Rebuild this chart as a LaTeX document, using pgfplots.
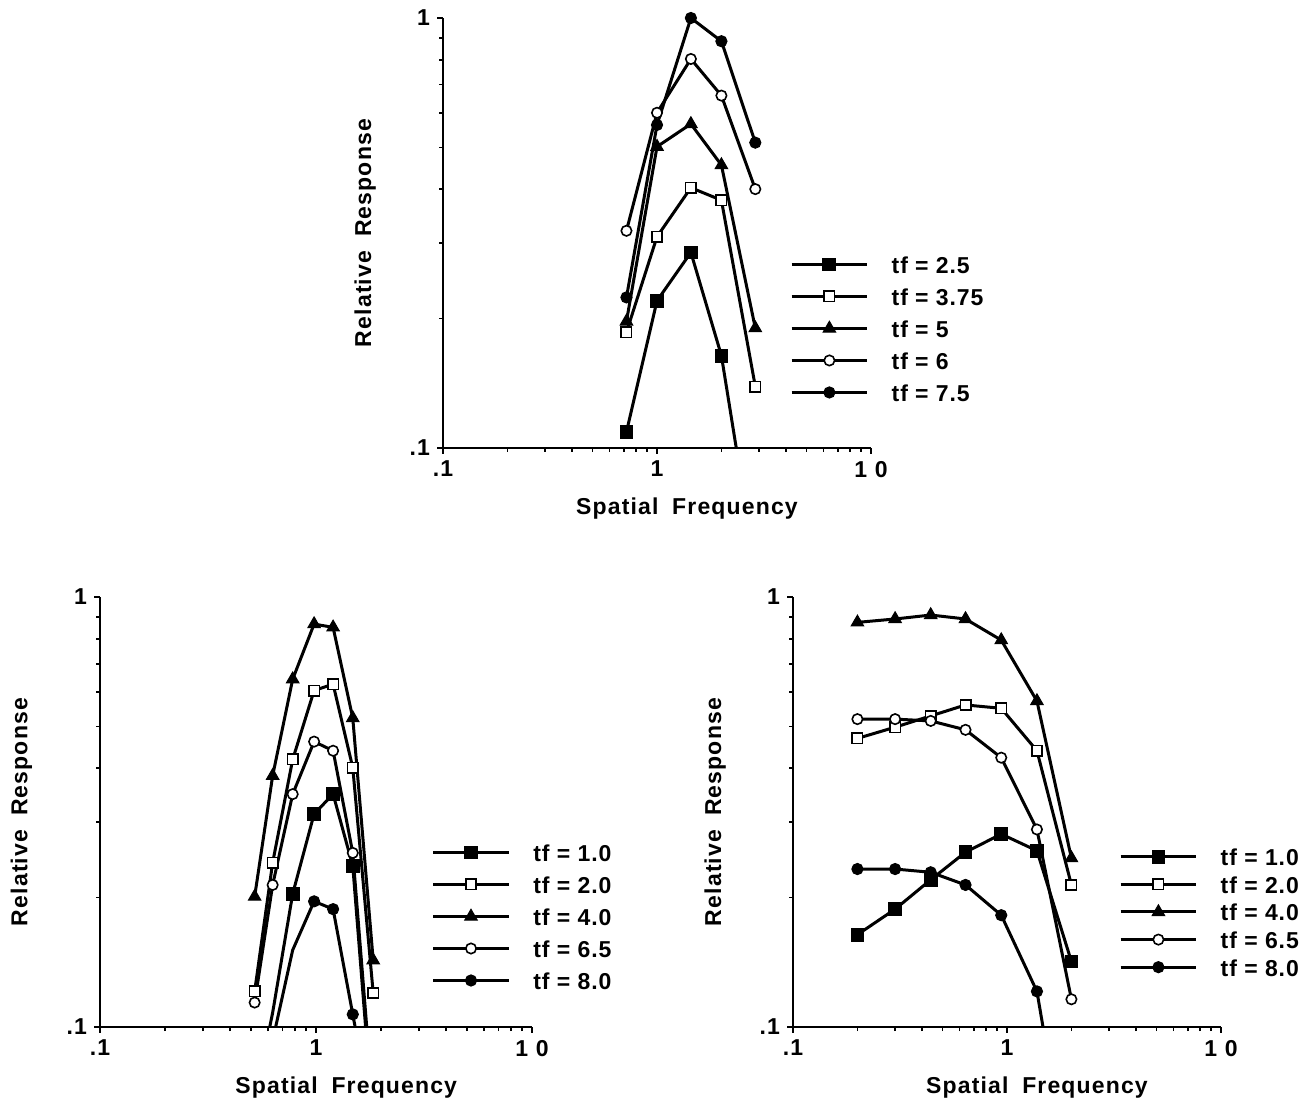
\documentclass[border=0pt]{standalone}
\usepackage{fontspec}
\setmainfont{Liberation Sans}[LetterSpace=5]
\newfontfamily\legfam{Liberation Sans}[LetterSpace=4]
\usepackage{pgfplots}
\pgfplotsset{compat=1.18}

\newcommand\lbl{\fontsize{11.5}{13.5}\selectfont\bfseries}
\newcommand\leg{\legfam\fontsize{11.5}{13.5}\selectfont\bfseries}

\tikzset{
  ser/.style={black, line width=1.5pt},
  fsq/.style={ser, mark=square*, mark size=3.2pt, mark options={solid, fill=black, line width=0.5pt}},
  osq/.style={ser, mark=square*, mark size=2.6pt, mark options={solid, fill=white, line width=0.8pt}},
  ftri/.style={ser, mark=triangle*, mark size=3.6pt, mark options={solid, fill=black, line width=0.5pt}},
  ocir/.style={ser, mark=*, mark size=2.6pt, mark options={solid, fill=white, line width=0.8pt}},
  fcir/.style={ser, mark=*, mark size=2.8pt, mark options={solid, fill=black, line width=0.5pt}},
}

\pgfplotsset{
  legend image code/.code={%
    \draw[#1, mark indices={2}] plot coordinates {(0pt,0pt) (18.9pt,0pt) (37.8pt,0pt)};},
  every axis/.append style={
    scale only axis, width=214pt, height=215pt,
    xmin=0.1, xmax=10, ymin=0.1, ymax=1,
    axis x line*=bottom, axis y line*=left,
    axis line style={line width=1pt},
    tick align=outside, major tick length=3pt, minor tick length=2pt,
    tick style={black, line width=0.9pt},
    xtick={0.1,1,10}, xticklabels={.1,1,1 0},
    ytick={0.1,1}, yticklabels={.1,1},
    tick label style={font=\lbl},
    label style={font=\lbl},
    xlabel={Spatial\hspace{0.6em}Frequency},
    ylabel={Relative\hspace{0.6em}Response},
    xlabel style={at={(axis description cs:0.57,-0.14)}, anchor=center},
    ylabel style={at={(axis description cs:-0.182,0.5)}, anchor=center},
    legend cell align=left,
    legend style={draw=none, fill=none, font=\leg, anchor=north west,
      nodes={inner sep=0pt, text height=9pt, text depth=0pt},
      /tikz/every odd column/.append style={column sep=11.5pt}},
  },
}

\begin{document}
\begin{tikzpicture}
\useasboundingbox (0,0) rectangle (652pt,550.5pt);

% top
\begin{loglogaxis}[at={(221.5pt,326.5pt)}, anchor=south west,
  legend style={at={(axis description cs:0.796,0.458)}, row sep=7pt}]
  \addplot[fsq, mark indices={1,2,3,4}] coordinates {(0.72,0.109)(1.0,0.22)(1.44,0.285)(2.0,0.164)(2.88,0.053)};
  \addlegendentry{tf = 2.5}
  \addplot[osq] coordinates {(0.72,0.186)(1.0,0.310)(1.44,0.403)(2.0,0.377)(2.88,0.139)};
  \addlegendentry{tf = 3.75}
  \addplot[ftri] coordinates {(0.72,0.197)(1.0,0.502)(1.44,0.567)(2.0,0.455)(2.88,0.190)};
  \addlegendentry{tf = 5}
  \addplot[ocir] coordinates {(0.72,0.320)(1.0,0.602)(1.44,0.803)(2.0,0.660)(2.88,0.400)};
  \addlegendentry{tf = 6}
  \addplot[fcir] coordinates {(0.72,0.224)(1.0,0.564)(1.44,1.0)(2.0,0.883)(2.88,0.513)};
  \addlegendentry{tf = 7.5}
\end{loglogaxis}

% bottom left
\begin{loglogaxis}[width=216pt, at={(50pt,37pt)}, anchor=south west,
  legend style={at={(axis description cs:0.753,0.437)}, row sep=7pt}]
  \addplot[fsq, mark indices={2,3,4,5,6}] coordinates {(0.52,0.067)(0.63,0.108)(0.78,0.204)(0.98,0.313)(1.2,0.348)(1.48,0.237)(1.84,0.06)};
  \addlegendentry{tf = 1.0}
  \addplot[osq] coordinates {(0.52,0.121)(0.63,0.241)(0.78,0.419)(0.98,0.606)(1.2,0.627)(1.48,0.401)(1.84,0.120)};
  \addlegendentry{tf = 2.0}
  \addplot[ftri] coordinates {(0.52,0.201)(0.63,0.384)(0.78,0.644)(0.98,0.865)(1.2,0.850)(1.48,0.523)(1.84,0.143)};
  \addlegendentry{tf = 4.0}
  \addplot[ocir, mark indices={1,2,3,4,5,6}] coordinates {(0.52,0.114)(0.63,0.214)(0.78,0.348)(0.98,0.461)(1.2,0.439)(1.48,0.254)(1.84,0.065)};
  \addlegendentry{tf = 6.5}
  \addplot[fcir, mark indices={2,3,4,5}] coordinates {(0.63,0.093)(0.78,0.151)(0.98,0.196)(1.2,0.188)(1.48,0.107)(1.84,0.06)};
  \addlegendentry{tf = 8.0}
\end{loglogaxis}

% bottom right
\begin{loglogaxis}[at={(396.5pt,37pt)}, anchor=south west,
  legend style={at={(axis description cs:0.747,0.427)}, row sep=4.8pt}]
  \addplot[fsq] coordinates {(0.2,0.164)(0.3,0.188)(0.44,0.220)(0.64,0.255)(0.94,0.281)(1.38,0.257)(2.0,0.142)};
  \addlegendentry{tf = 1.0}
  \addplot[osq] coordinates {(0.2,0.469)(0.3,0.498)(0.44,0.529)(0.64,0.561)(0.94,0.551)(1.38,0.439)(2.0,0.214)};
  \addlegendentry{tf = 2.0}
  \addplot[ftri] coordinates {(0.2,0.873)(0.3,0.889)(0.44,0.908)(0.64,0.889)(0.94,0.794)(1.38,0.573)(2.0,0.247)};
  \addlegendentry{tf = 4.0}
  \addplot[ocir] coordinates {(0.2,0.520)(0.3,0.520)(0.44,0.515)(0.64,0.491)(0.94,0.423)(1.38,0.288)(2.0,0.116)};
  \addlegendentry{tf = 6.5}
  \addplot[fcir, mark indices={1,2,3,4,5,6}] coordinates {(0.2,0.233)(0.3,0.233)(0.44,0.229)(0.64,0.214)(0.94,0.182)(1.38,0.121)(2.0,0.041)};
  \addlegendentry{tf = 8.0}
\end{loglogaxis}
\end{tikzpicture}
\end{document}
